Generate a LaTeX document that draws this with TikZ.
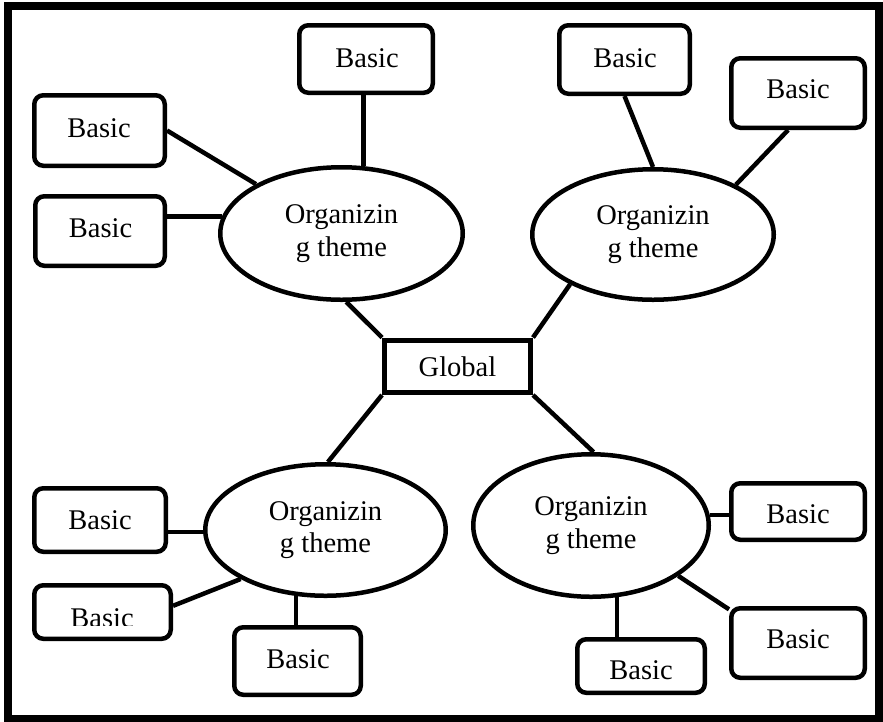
\documentclass[tikz,border=0pt]{standalone}
\usepackage{fontspec}
\setmainfont{Liberation Serif}
\usetikzlibrary{shapes.geometric}

\tikzset{
  lw/.style={line width=4.5pt},
  basicbox/.style={draw, lw, rounded corners=9pt, inner sep=0pt},
  theme/.style={ellipse, draw, lw, inner sep=0pt, align=center,
    font=\fontsize{28.5}{32.5}\selectfont},
  globalbox/.style={draw, line width=5pt, inner sep=0pt,
    font=\fontsize{28.5}{32.5}\selectfont},
  lbl/.style={anchor=base, inner sep=0pt, font=\fontsize{28.5}{32.5}\selectfont},
  link/.style={lw, line cap=butt},
}

\begin{document}
\begin{tikzpicture}[x=1pt, y=-1pt]
\useasboundingbox (0,0) rectangle (883,721);

% outer frame
\draw[line width=8pt] (8,6) rectangle (879,719);

% central node
\node[globalbox, minimum width=146pt, minimum height=52.5pt] (global) at (457.5,366.25) {Global};

% organizing themes
\node[theme, minimum width=242.5pt, minimum height=132.5pt] (ot1) at (341.5,233.5) {Organizin\\g theme};
\node[theme, minimum width=241.5pt, minimum height=130.5pt] (ot2) at (653,234.5) {Organizin\\g theme};
\node[theme, minimum width=240.5pt, minimum height=131.5pt] (ot3) at (325.5,530) {Organizin\\g theme};
\node[theme, minimum width=235.5pt, minimum height=142.5pt] (ot4) at (591,525.5) {Organizin\\g theme};

% basic themes (boxes)
\node[basicbox, minimum width=133.5pt, minimum height=67.5pt] (tl1) at (366,59) {};
\node[basicbox, minimum width=130.5pt, minimum height=70.5pt] (tl2) at (99.5,130.5) {};
\node[basicbox, minimum width=129.5pt, minimum height=69.5pt] (tl3) at (100,231) {};
\node[basicbox, minimum width=130.5pt, minimum height=68.5pt] (tr1) at (624.5,59.5) {};
\node[basicbox, minimum width=133.5pt, minimum height=69.5pt] (tr2) at (798,93) {};
\node[basicbox, minimum width=131.5pt, minimum height=63.5pt] (bl1) at (100,520) {};
\node[basicbox, minimum width=136.5pt, minimum height=53.5pt] (bl2) at (102.5,612) {};
\node[basicbox, minimum width=126.5pt, minimum height=67.5pt] (bl3) at (297.5,661) {};
\node[basicbox, minimum width=133.5pt, minimum height=56.5pt] (br1) at (798,511.5) {};
\node[basicbox, minimum width=133.5pt, minimum height=69.5pt] (br2) at (798,643) {};
\node[basicbox, minimum width=127.5pt, minimum height=53.5pt] (br3) at (641,666) {};

% box labels
\node[lbl] (tl1t) at (367,67) {Basic};
\node[lbl] (tl2t) at (99,137) {Basic};
\node[lbl] (tl3t) at (100.5,237) {Basic};
\node[lbl] (tr1t) at (625,67) {Basic};
\node[lbl] (tr2t) at (798,98) {Basic};
\node[lbl] (bl1t) at (100,529) {Basic};
\begin{scope}
  \clip (40,590) rectangle (168,625.5);
  \node[lbl] (bl2t) at (102,627) {Basic};
\end{scope}
\node[lbl] (bl3t) at (298,668) {Basic};
\node[lbl] (br1t) at (798,523) {Basic};
\node[lbl] (br2t) at (798,648) {Basic};
\node[lbl] (br3t) at (641,679) {Basic};

% links from the global theme
\draw[link] (ot1.-86) -- (global.north west);
\draw[link] (ot2.211) -- (global.north east);
\draw[link] (global.south west) -- (ot3.88);
\draw[link] (global.south east) -- (ot4.88);

% links to the basic themes
\draw[link] (ot1.72) -- (ot1.72 |- tl1.south);
\draw[link] (tl2.east) -- (ot1.150);
\draw[link] (ot1.172.5) -- (ot1.172.5 -| tl3.east);
\draw[link] (tr1.south) -- (ot2.north);
\draw[link] (tr2.-105) -- (ot2.31);
\draw[link] (ot3.181.4) -- (ot3.181.4 -| bl1.east);
\draw[link] (bl2.5.7) -- (ot3.210);
\draw[link] (ot3.246.7) -- (ot3.246.7 |- bl3.north);
\draw[link] (ot4.5.65) -- (ot4.5.65 -| br1.west);
\draw[link] (ot4.-30.5) -- (br2.154);
\draw[link] (ot4.-70.2) -- (ot4.-70.2 |- br3.north);
\end{tikzpicture}
\end{document}
